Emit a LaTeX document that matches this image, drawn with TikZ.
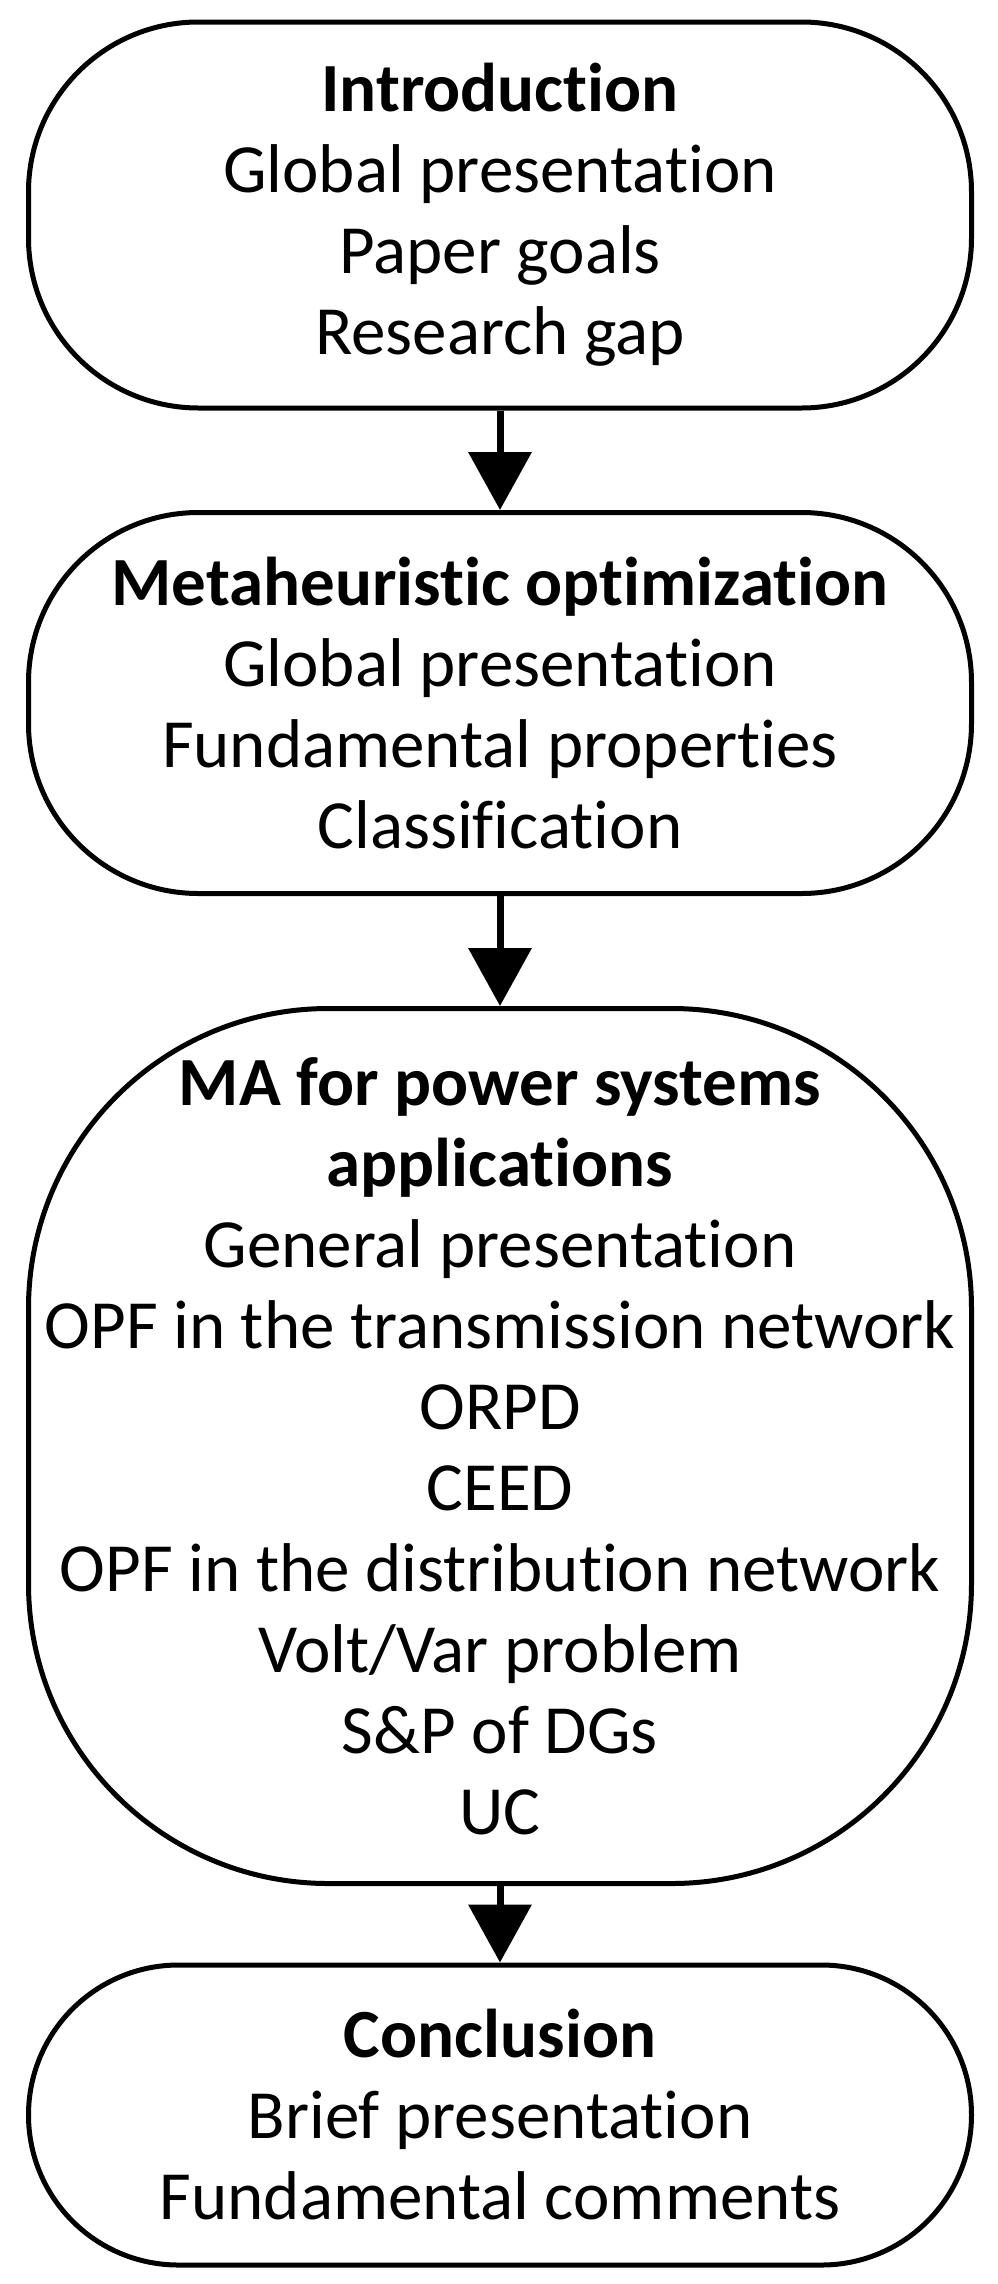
\documentclass[tikz,border=0pt]{standalone}
\usepackage{fontspec}
\setmainfont{Carlito}[Ligatures={NoCommon,NoRequired,NoContextual},Contextuals=NoAlternate]
\usetikzlibrary{arrows.meta}
\begin{document}
\begin{tikzpicture}[x=1pt,y=1pt,
  box/.style={draw,line width=5pt,rounded corners=#1,minimum width=943pt,inner sep=0pt,align=center,font=\fontsize{69}{81}\selectfont},
  arr/.style={line width=7pt,-{Triangle[width=62pt,length=58pt]}}]
\useasboundingbox (0,0) rectangle (997,-2284);
\node[box=170pt,minimum height=386pt] (a) at (500,-215) {\textbf{Introduction}\\Global presentation\\Paper goals\\Research gap};
\node[box=170pt,minimum height=381pt] (b) at (500,-703) {\textbf{Metaheuristic optimization}\\Global presentation\\Fundamental properties\\Classification};
\node[box=300pt,minimum height=875pt] (c) at (500,-1446) {\textbf{MA for power systems}\\\textbf{applications}\\General presentation\\OPF in the transmission network\\ORPD\\CEED\\OPF in the distribution network\\Volt/Var problem\\S\&P of DGs\\UC};
\node[box=150pt,minimum height=300pt] (d) at (500,-2115) {\textbf{Conclusion}\\Brief presentation\\Fundamental comments};
\draw[arr] (a.south) -- (b.north);
\draw[arr] (b.south) -- (c.north);
\draw[arr] (c.south) -- (d.north);
\end{tikzpicture}
\end{document}
